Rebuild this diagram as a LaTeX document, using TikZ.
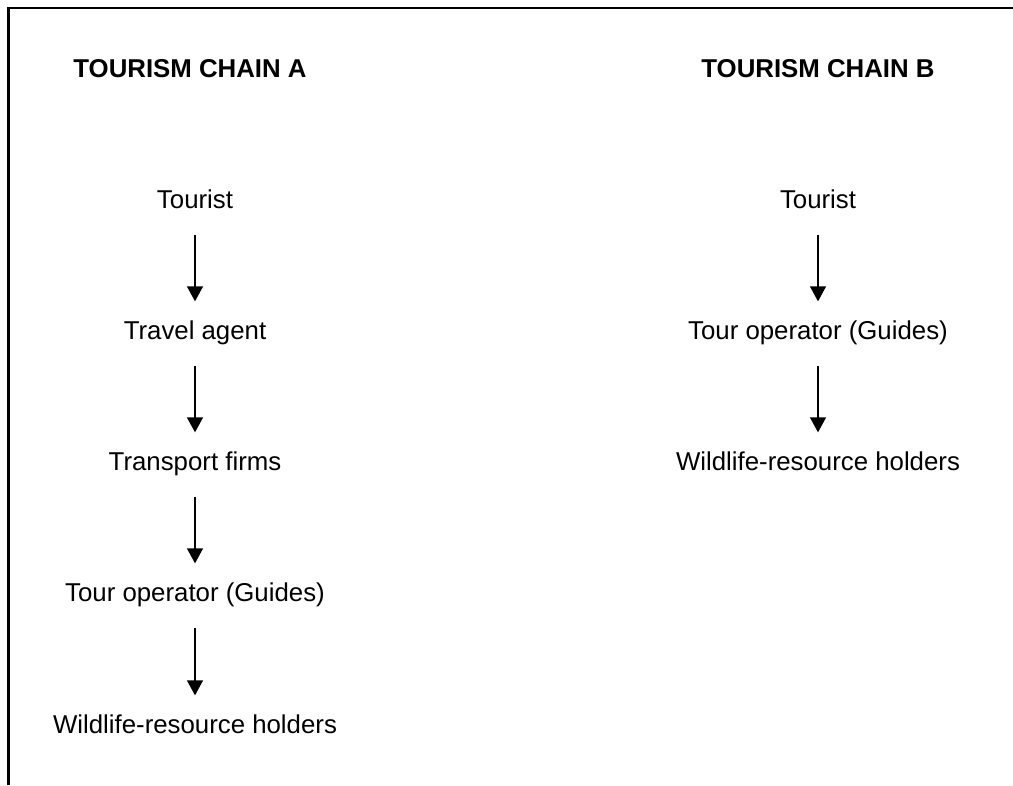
\documentclass[tikz,border=0pt]{standalone}
\usepackage{fontspec}
\setmainfont{Liberation Sans}
\usetikzlibrary{arrows.meta}

\begin{document}
\begin{tikzpicture}[x=0.465pt, y=-0.465pt,
  stage/.style={inner sep=0pt, anchor=base, text height=8.9pt, text depth=2.5pt, font=\fontsize{12}{14}\selectfont},
  chaintitle/.style={inner sep=0pt, anchor=base, font=\fontsize{12}{14}\selectfont\bfseries},
  flow/.style={-{Triangle[length=7pt, width=7.4pt]}, line width=0.75pt, draw=black, shorten <=10pt, shorten >=8.4pt}]
\useasboundingbox (0,0) rectangle (1013,785);
\draw[line width=1.05pt] (8.5,785) -- (8.5,7.8) -- (1013,7.8);
% chain A
\node[chaintitle] (TA) at (190,77) {TOURISM CHAIN A};
\node[stage] (A1) at (195,208) {Tourist};
\node[stage] (A2) at (195,339) {Travel agent};
\node[stage] (A3) at (195,470) {Transport firms};
\node[stage] (A4) at (195,601) {Tour operator (Guides)};
\node[stage] (A5) at (195,733) {Wildlife-resource holders};
\draw [flow] (A1.south) -- (A2.north);
\draw [flow] (A2.south) -- (A3.north);
\draw [flow] (A3.south) -- (A4.north);
\draw [flow] (A4.south) -- (A5.north);
% chain B
\node[chaintitle] (TB) at (818,77) {TOURISM CHAIN B};
\node[stage] (B1) at (818,208) {Tourist};
\node[stage] (B2) at (818,339) {Tour operator (Guides)};
\node[stage] (B3) at (818,470) {Wildlife-resource holders};
\draw [flow] (B1.south) -- (B2.north);
\draw [flow] (B2.south) -- (B3.north);
\end{tikzpicture}
\end{document}
